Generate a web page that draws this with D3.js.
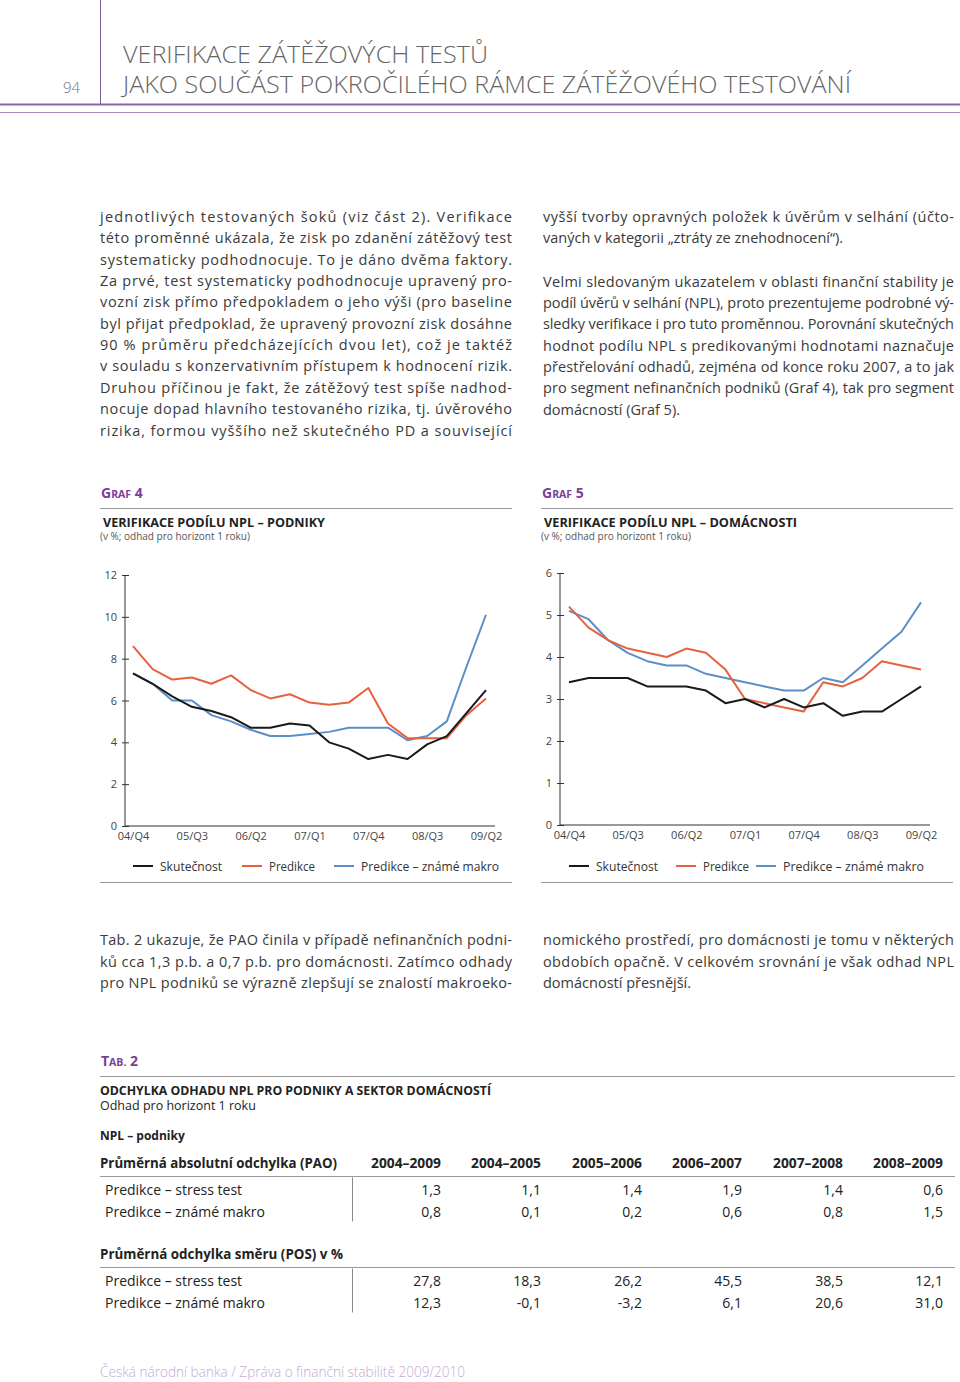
<!DOCTYPE html>
<html>
<head>
<meta charset="utf-8">
<script src="https://cdn.jsdelivr.net/npm/d3@7"></script>
<style>
  body { margin: 0; background: #fff; }
  text { font-family: "Open Sans", "DejaVu Sans", sans-serif; }
</style>
</head>
<body>
<div id="page"></div>
<script>
// ---- data ----
var quarters = ["04/Q4","05/Q1","05/Q2","05/Q3","05/Q4","06/Q1","06/Q2","06/Q3","06/Q4",
  "07/Q1","07/Q2","07/Q3","07/Q4","08/Q1","08/Q2","08/Q3","08/Q4","09/Q1","09/Q2"];
var tickQuarters = ["04/Q4","05/Q3","06/Q2","07/Q1","07/Q4","08/Q3","09/Q2"];

// Graf 4 – podniky
var podSkutecnost = [7.3,6.8,6.2,5.7,5.5,5.2,4.7,4.7,4.9,4.8,4.0,3.7,3.2,3.4,3.2,3.9,4.3,5.4,6.5];
var podPredikce   = [8.6,7.5,7.0,7.1,6.8,7.2,6.5,6.1,6.3,5.9,5.8,5.9,6.6,4.9,4.2,4.2,4.2,5.3,6.1];
var podMakro      = [7.3,6.8,6.0,6.0,5.3,5.0,4.6,4.3,4.3,4.4,4.5,4.7,4.7,4.7,4.1,4.3,5.0,7.6,10.1];
var podTicks = [0,2,4,6,8,10,12];

// Graf 5 – domácnosti
var domSkutecnost = [3.4,3.5,3.5,3.5,3.3,3.3,3.3,3.2,2.9,3.0,2.8,3.0,2.8,2.9,2.6,2.7,2.7,3.0,3.3];
var domPredikce   = [5.2,4.7,4.4,4.2,4.1,4.0,4.2,4.1,3.7,3.0,2.9,2.8,2.7,3.4,3.3,3.5,3.9,3.8,3.7];
var domMakro      = [5.1,4.9,4.4,4.1,3.9,3.8,3.8,3.6,3.5,3.4,3.3,3.2,3.2,3.5,3.4,3.8,4.2,4.6,5.3];
var domTicks = [0,1,2,3,4,5,6];

var seriesNames = ["Skutečnost","Predikce","Predikce – známé makro"];
var seriesColors = ["#1a1a1a","#e8613f","#5b8fc8"];

// Tab. 2
var tabYears = ["2004–2009","2004–2005","2005–2006","2006–2007","2007–2008","2008–2009"];
var tabRows = ["Predikce – stress test","Predikce – známé makro"];
var paoStress = ["1,3","1,1","1,4","1,9","1,4","0,6"];
var paoMakro  = ["0,8","0,1","0,2","0,6","0,8","1,5"];
var posStress = ["27,8","18,3","26,2","45,5","38,5","12,1"];
var posMakro  = ["12,3","-0,1","-3,2","6,1","20,6","31,0"];

// ---- text ----
var leftCol = [
  "jednotlivých testovaných šoků (viz část 2). Verifikace",
  "této proměnné ukázala, že zisk po zdanění zátěžový test",
  "systematicky podhodnocuje. To je dáno dvěma faktory.",
  "Za prvé, test systematicky podhodnocuje upravený pro-",
  "vozní zisk přímo předpokladem o jeho výši (pro baseline",
  "byl přijat předpoklad, že upravený provozní zisk dosáhne",
  "90 % průměru předcházejících dvou let), což je taktéž",
  "v souladu s konzervativním přístupem k hodnocení rizik.",
  "Druhou příčinou je fakt, že zátěžový test spíše nadhod-",
  "nocuje dopad hlavního testovaného rizika, tj. úvěrového",
  "rizika, formou vyššího než skutečného PD a související"
];
var rightCol1 = [
  "vyšší tvorby opravných položek k úvěrům v selhání (účto-",
  "vaných v kategorii „ztráty ze znehodnocení“)."
];
var rightCol2 = [
  "Velmi sledovaným ukazatelem v oblasti finanční stability je",
  "podíl úvěrů v selhání (NPL), proto prezentujeme podrobné vý-",
  "sledky verifikace i pro tuto proměnnou. Porovnání skutečných",
  "hodnot podílu NPL s predikovanými hodnotami naznačuje",
  "přestřelování odhadů, zejména od konce roku 2007, a to jak",
  "pro segment nefinančních podniků (Graf 4), tak pro segment",
  "domácností (Graf 5)."
];
var lowLeft = [
  "Tab. 2 ukazuje, že PAO činila v případě nefinančních podni-",
  "ků cca 1,3 p.b. a 0,7 p.b. pro domácnosti. Zatímco odhady",
  "pro NPL podniků se výrazně zlepšují se znalostí makroeko-"
];
var lowRight = [
  "nomického prostředí, pro domácnosti je tomu v některých",
  "obdobích opačně. V celkovém srovnání je však odhad NPL",
  "domácností přesnější."
];

var W = 960, H = 1382,
    purple = "#8a66a6", gray = "#9a9a9a";

var svg = d3.select("#page").append("svg")
  .attr("width", W).attr("height", H);
svg.append("rect").attr("width", W).attr("height", H).attr("fill", "#fff");

// ---- header ----
svg.append("line").attr("x1",100.5).attr("x2",100.5).attr("y1",0).attr("y2",104)
  .attr("stroke", "#7a5a92").attr("stroke-width",1);
svg.append("text").attr("x",63).attr("y",93).text("94")
  .attr("font-size","15px").attr("fill","#777").attr("font-weight",300);
svg.append("text").attr("x",123).attr("y",63).text("VERIFIKACE ZÁTĚŽOVÝCH TESTŮ")
  .attr("font-size","24px").attr("fill","#666").attr("font-weight",300)
  .attr("textLength",365).attr("lengthAdjust","spacingAndGlyphs");
svg.append("text").attr("x",123).attr("y",93).text("JAKO SOUČÁST POKROČILÉHO RÁMCE ZÁTĚŽOVÉHO TESTOVÁNÍ")
  .attr("font-size","24px").attr("fill","#666").attr("font-weight",300)
  .attr("textLength",728).attr("lengthAdjust","spacingAndGlyphs");
svg.append("line").attr("x1",0).attr("x2",W).attr("y1",104.5).attr("y2",104.5)
  .attr("stroke", purple).attr("stroke-width",2);
svg.append("line").attr("x1",0).attr("x2",W).attr("y1",112.5).attr("y2",112.5)
  .attr("stroke", "#a58cba").attr("stroke-width",1);

// justified paragraph lines
function para(lines, x, y0, width, lastFree, size, step){
  lines.forEach(function(l, i){
    var t = svg.append("text")
      .attr("x", x).attr("y", y0 + i*step)
      .attr("font-size", size + "px").attr("fill", "#3a3a3a")
      .text(l);
    if(!(lastFree && i == lines.length-1)){
      t.attr("textLength", width).attr("lengthAdjust", "spacing");
    }
  });
}

para(leftCol, 100, 222, 412, false, 14.5, 21.35);
para(rightCol1, 543, 222, 411, true, 14.5, 21.35);
para(rightCol2, 543, 286.5, 411, true, 14.5, 21.35);
para(lowLeft, 100, 945, 412, false, 14.5, 21.5);
para(lowRight, 543, 945, 411, true, 14.5, 21.5);

// small caps label (GRAF 4, TAB. 2)
function capsLabel(x, y, first, rest, num){
  var t = svg.append("text").attr("x", x).attr("y", y)
    .attr("fill", "#7b3f98").attr("font-weight", "bold");
  t.append("tspan").attr("font-size","14px").text(first);
  t.append("tspan").attr("font-size","10.5px").text(rest);
  t.append("tspan").attr("font-size","14px").text(num);
}

// ---- charts ----
function chart(opt){
  capsLabel(opt.left + 1, 498, opt.caps[0], opt.caps[1], opt.caps[2]);
  svg.append("line").attr("x1", opt.left).attr("x2", opt.right)
    .attr("y1", 508.5).attr("y2", 508.5).attr("stroke", gray);
  svg.append("text").attr("x", opt.left + 3).attr("y", 527)
    .attr("font-size","12.5px").attr("font-weight","bold").attr("fill","#222")
    .attr("textLength", opt.titleW).attr("lengthAdjust","spacingAndGlyphs")
    .text(opt.title);
  svg.append("text").attr("x", opt.left).attr("y", 540)
    .attr("font-size","10px").attr("fill","#555")
    .text("(v %; odhad pro horizont 1 roku)");

  var x = d3.scalePoint().domain(quarters).range([opt.x0, opt.x1]);
  var y = d3.scaleLinear().domain([0, opt.max]).range([opt.yBottom, opt.yTop]);

  var g = svg.append("g");

  // y axis
  var yAxis = g.append("g")
    .attr("transform", "translate(" + opt.axisX + ",0)")
    .call(d3.axisLeft(y).tickValues(opt.ticks).tickFormat(d3.format("d"))
      .tickSize(0).tickPadding(8));
  yAxis.select(".domain").remove();
  yAxis.selectAll(".tick text").attr("font-size","11px").attr("fill","#444")
    .attr("font-family", "'Open Sans', sans-serif");
  yAxis.selectAll(".tick").append("line")
    .attr("x1", -3).attr("x2", 4).attr("stroke", "#333");
  g.append("line").attr("x1", opt.axisX).attr("x2", opt.axisX)
    .attr("y1", y(opt.max)).attr("y2", y(0)).attr("stroke","#333");

  // x axis
  var xAxis = g.append("g")
    .attr("transform", "translate(0," + y(0) + ")")
    .call(d3.axisBottom(x).tickValues(tickQuarters).tickSize(0).tickPadding(6));
  xAxis.select(".domain").remove();
  xAxis.selectAll(".tick text").attr("font-size","11px").attr("fill","#444")
    .attr("font-family", "'Open Sans', sans-serif");
  g.append("line").attr("x1", opt.axisX).attr("x2", opt.axisEnd)
    .attr("y1", y(0)).attr("y2", y(0)).attr("stroke","#333");

  var line = d3.line()
    .x(function(d, i){ return x(quarters[i]); })
    .y(function(d){ return y(d); });

  // draw makro, predikce, skutečnost (black on top)
  [2, 1, 0].forEach(function(k){
    g.append("path").datum(opt.series[k])
      .attr("d", line)
      .attr("fill","none")
      .attr("stroke", seriesColors[k])
      .attr("stroke-width", 2)
      .attr("stroke-linejoin","round");
  });

  // legend
  seriesNames.forEach(function(n, k){
    var lx = opt.legendX[k];
    g.append("line").attr("x1", lx).attr("x2", lx + 20)
      .attr("y1", 866).attr("y2", 866)
      .attr("stroke", seriesColors[k]).attr("stroke-width", 2);
    g.append("text").attr("x", lx + opt.legendGap).attr("y", 870.5)
      .attr("font-size","12.5px").attr("fill","#333")
      .attr("textLength", opt.legendW[k]).attr("lengthAdjust","spacingAndGlyphs")
      .text(opt.legendText[k]);
  });
  svg.append("line").attr("x1", opt.left).attr("x2", opt.right)
    .attr("y1", 882.5).attr("y2", 882.5).attr("stroke", gray);
}

chart({
  left: 100, right: 512, caps: ["G","RAF"," 4"],
  title: "VERIFIKACE PODÍLU NPL – PODNIKY", titleW: 222,
  x0: 133, x1: 486, axisX: 125, axisEnd: 495,
  yTop: 575, yBottom: 826, max: 12, ticks: podTicks,
  series: [podSkutecnost, podPredikce, podMakro],
  legendX: [133, 242, 334], legendGap: 27,
  legendText: seriesNames, legendW: [62, 46, 138]
});

chart({
  left: 541, right: 953, caps: ["G","RAF"," 5"],
  title: "VERIFIKACE PODÍLU NPL – DOMÁCNOSTI", titleW: 253,
  x0: 569, x1: 921, axisX: 560, axisEnd: 930,
  yTop: 573, yBottom: 825, max: 6, ticks: domTicks,
  series: [domSkutecnost, domPredikce, domMakro],
  legendX: [569, 676, 756], legendGap: 27,
  legendText: ["Skutečnost","Predikce","Predikce  – známé makro"], legendW: [62, 46, 141]
});

// ---- Tab. 2 ----
capsLabel(101, 1066, "T", "AB.", " 2");
svg.append("line").attr("x1",100).attr("x2",955).attr("y1",1076.5).attr("y2",1076.5)
  .attr("stroke", gray);
svg.append("text").attr("x",100).attr("y",1095)
  .attr("font-size","12px").attr("font-weight","bold").attr("fill","#222")
  .attr("textLength",391).attr("lengthAdjust","spacingAndGlyphs")
  .text("ODCHYLKA ODHADU NPL PRO PODNIKY A SEKTOR DOMÁCNOSTÍ");
svg.append("text").attr("x",100).attr("y",1110)
  .attr("font-size","12.5px").attr("fill","#222")
  .text("Odhad pro horizont 1 roku");
svg.append("text").attr("x",100).attr("y",1140)
  .attr("font-size","12px").attr("font-weight","bold").attr("fill","#222")
  .text("NPL – podniky");

var colRight = [441, 541, 642, 742, 843, 943];

function block(headY, header, headerW, withYears, rowsVals){
  svg.append("text").attr("x",100).attr("y",headY)
    .attr("font-size","13.5px").attr("font-weight","bold").attr("fill","#222")
    .attr("textLength", headerW).attr("lengthAdjust","spacingAndGlyphs")
    .text(header);
  if(withYears){
    svg.selectAll(null).data(tabYears).enter().append("text")
      .attr("x", function(d,i){ return colRight[i]; })
      .attr("y", headY).attr("text-anchor","end")
      .attr("font-size","13.5px").attr("font-weight","bold").attr("fill","#222")
      .attr("textLength", 70).attr("lengthAdjust","spacingAndGlyphs")
      .text(function(d){ return d; });
  }
  var lineY = headY + 8.5;
  svg.append("line").attr("x1",100).attr("x2",955).attr("y1",lineY).attr("y2",lineY)
    .attr("stroke", gray);
  svg.append("line").attr("x1",352.5).attr("x2",352.5).attr("y1",lineY+1).attr("y2",lineY+45)
    .attr("stroke", "#888");
  rowsVals.forEach(function(vals, r){
    var ry = lineY + 18 + r*22;
    svg.append("text").attr("x",105).attr("y",ry)
      .attr("font-size","14px").attr("fill","#222").text(tabRows[r]);
    svg.selectAll(null).data(vals).enter().append("text")
      .attr("x", function(d,i){ return colRight[i]; })
      .attr("y", ry).attr("text-anchor","end")
      .attr("font-size","14px").attr("fill","#222")
      .text(function(d){ return d; });
  });
}

block(1168, "Průměrná absolutní odchylka (PAO)", 237, true, [paoStress, paoMakro]);
block(1259, "Průměrná odchylka směru (POS) v %", 243, false, [posStress, posMakro]);

// footer
svg.append("text").attr("x",100).attr("y",1377)
  .attr("font-size","14px").attr("fill","#c2acd2").attr("font-weight",300)
  .attr("textLength",365).attr("lengthAdjust","spacingAndGlyphs")
  .text("Česká národní banka / Zpráva o finanční stabilitě 2009/2010");
</script>
</body>
</html>
